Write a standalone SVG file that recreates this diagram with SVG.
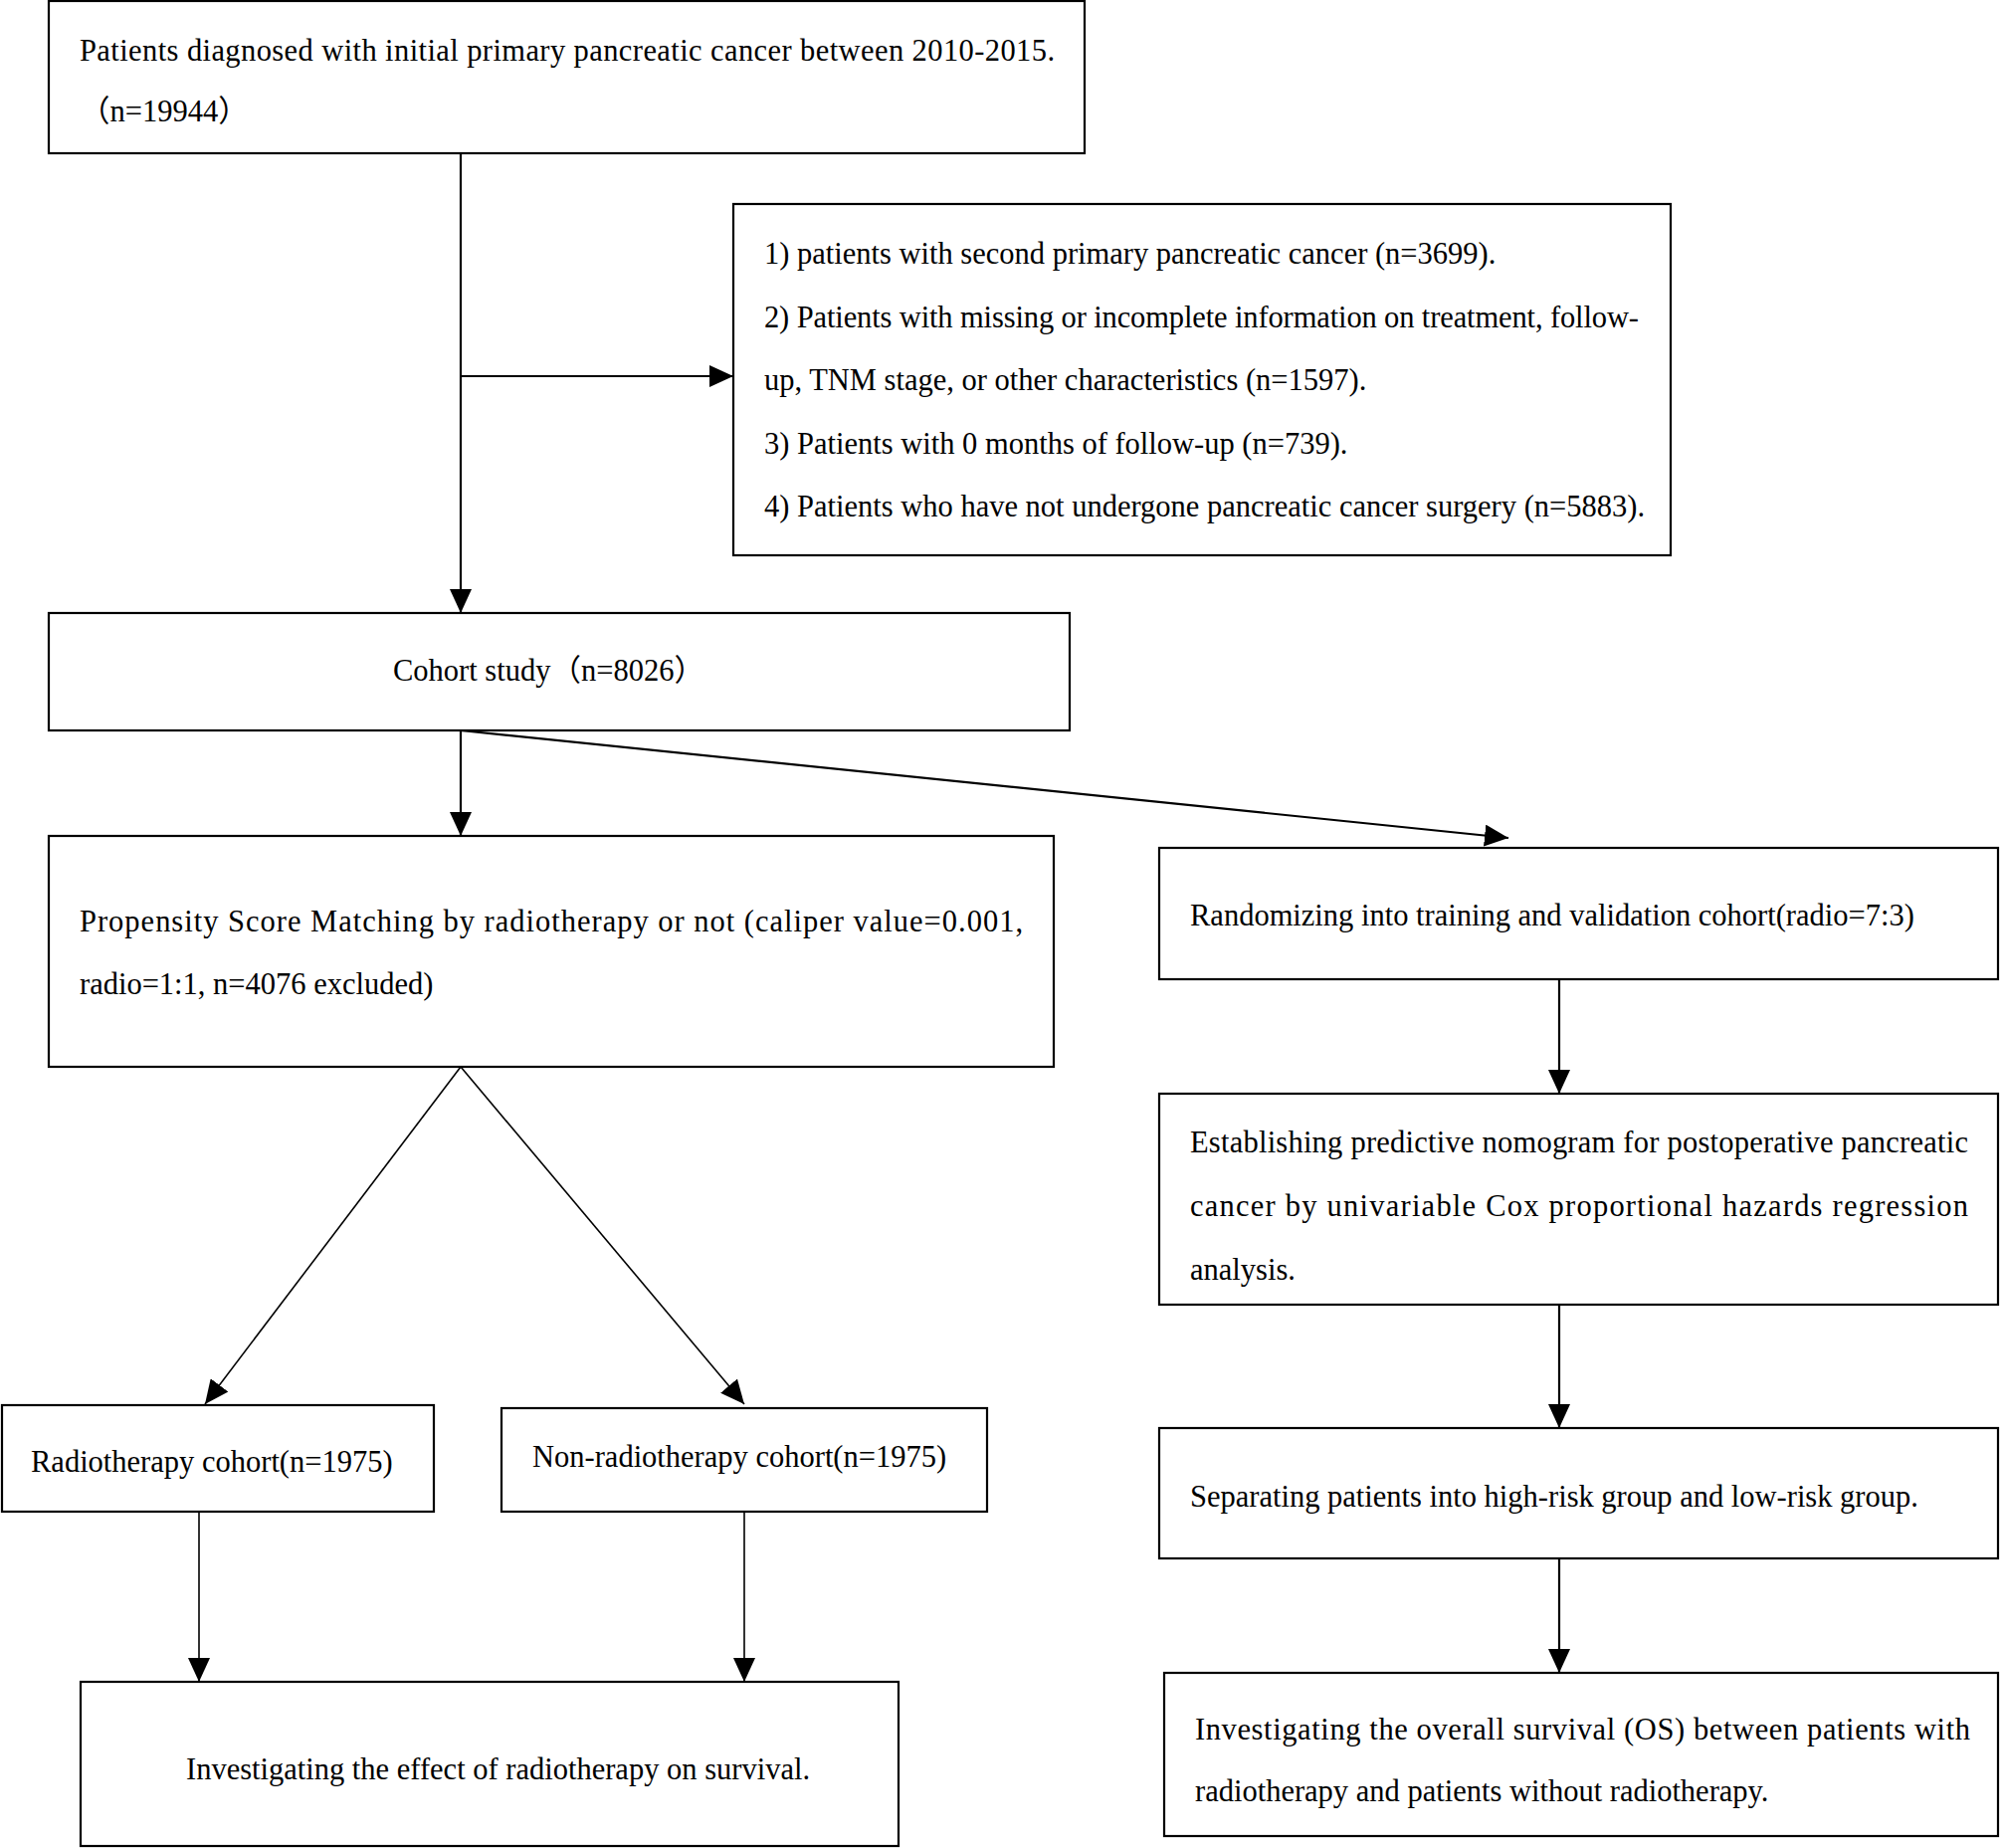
<svg xmlns="http://www.w3.org/2000/svg" width="2011" height="1857" viewBox="0 0 2011 1857">
<style>
.box{fill:#fff;stroke:#000;stroke-width:2.2}
.t{font-family:"Liberation Serif","Noto Sans CJK SC",serif;font-size:30.5px;fill:#000}
.c{stroke:#000;stroke-width:2.2;fill:none}
.d{stroke:#000;stroke-width:1.6;fill:none}
</style>
<defs>
<marker id="ah" markerWidth="24" markerHeight="22" refX="24" refY="11" orient="auto" markerUnits="userSpaceOnUse">
<path d="M0,0 L24,11 L0,22 Z" fill="#000"/>
</marker>
</defs>
<rect width="2011" height="1857" fill="#fff"/>
<g id="connectors">
<line class="c" x1="463" y1="154" x2="463" y2="616" marker-end="url(#ah)"/>
<line class="c" x1="463" y1="378" x2="737" y2="378" marker-end="url(#ah)"/>
<line class="c" x1="463" y1="734" x2="463" y2="840" marker-end="url(#ah)"/>
<line class="c" x1="463" y1="734" x2="1516" y2="842" marker-end="url(#ah)"/>
<line class="d" x1="463" y1="1072" x2="206" y2="1411" marker-end="url(#ah)"/>
<line class="d" x1="463" y1="1072" x2="748" y2="1411" marker-end="url(#ah)"/>
<line class="d" x1="200" y1="1519" x2="200" y2="1690" marker-end="url(#ah)"/>
<line class="d" x1="748" y1="1519" x2="748" y2="1690" marker-end="url(#ah)"/>
<line class="c" x1="1567" y1="984" x2="1567" y2="1099" marker-end="url(#ah)"/>
<line class="c" x1="1567" y1="1311" x2="1567" y2="1435" marker-end="url(#ah)"/>
<line class="c" x1="1567" y1="1566" x2="1567" y2="1681" marker-end="url(#ah)"/>
</g>
<g id="n1">
<rect class="box" x="49" y="1" width="1041" height="153"/>
<text class="t" x="80" y="61" textLength="980">Patients diagnosed with initial primary pancreatic cancer between 2010-2015.</text>
<text class="t" x="80" y="122">（n=19944）</text>
</g>
<g id="n2">
<rect class="box" x="737" y="205" width="942" height="353"/>
<text class="t" x="768" y="265">1) patients with second primary pancreatic cancer (n=3699).</text>
<text class="t" x="768" y="329" textLength="879">2) Patients with missing or incomplete information on treatment, follow-</text>
<text class="t" x="768" y="392">up, TNM stage, or other characteristics (n=1597).</text>
<text class="t" x="768" y="456">3) Patients with 0 months of follow-up (n=739).</text>
<text class="t" x="768" y="519">4) Patients who have not undergone pancreatic cancer surgery (n=5883).</text>
</g>
<g id="n3">
<rect class="box" x="49" y="616" width="1026" height="118"/>
<text class="t" x="395" y="684">Cohort study（n=8026）</text>
</g>
<g id="n4">
<rect class="box" x="49" y="840" width="1010" height="232"/>
<text class="t" x="80" y="936" textLength="948">Propensity Score Matching by radiotherapy or not (caliper value=0.001,</text>
<text class="t" x="80" y="999">radio=1:1, n=4076 excluded)</text>
</g>
<g id="n5">
<rect class="box" x="1165" y="852" width="843" height="132"/>
<text class="t" x="1196" y="930">Randomizing into training and validation cohort(radio=7:3)</text>
</g>
<g id="n6">
<rect class="box" x="1165" y="1099" width="843" height="212"/>
<text class="t" x="1196" y="1158" textLength="782">Establishing predictive nomogram for postoperative pancreatic</text>
<text class="t" x="1196" y="1222" textLength="782">cancer by univariable Cox proportional hazards regression</text>
<text class="t" x="1196" y="1286">analysis.</text>
</g>
<g id="n7">
<rect class="box" x="1165" y="1435" width="843" height="131"/>
<text class="t" x="1196" y="1514">Separating patients into high-risk group and low-risk group.</text>
</g>
<g id="n8">
<rect class="box" x="1170" y="1681" width="838" height="164"/>
<text class="t" x="1201" y="1748" textLength="779">Investigating the overall survival (OS) between patients with</text>
<text class="t" x="1201" y="1810">radiotherapy and patients without radiotherapy.</text>
</g>
<g id="n9">
<rect class="box" x="2" y="1412" width="434" height="107"/>
<text class="t" x="31" y="1479">Radiotherapy cohort(n=1975)</text>
</g>
<g id="n10">
<rect class="box" x="504" y="1415" width="488" height="104"/>
<text class="t" x="535" y="1474">Non-radiotherapy cohort(n=1975)</text>
</g>
<g id="n11">
<rect class="box" x="81" y="1690" width="822" height="165"/>
<text class="t" x="187" y="1788">Investigating the effect of radiotherapy on survival.</text>
</g>
</svg>
